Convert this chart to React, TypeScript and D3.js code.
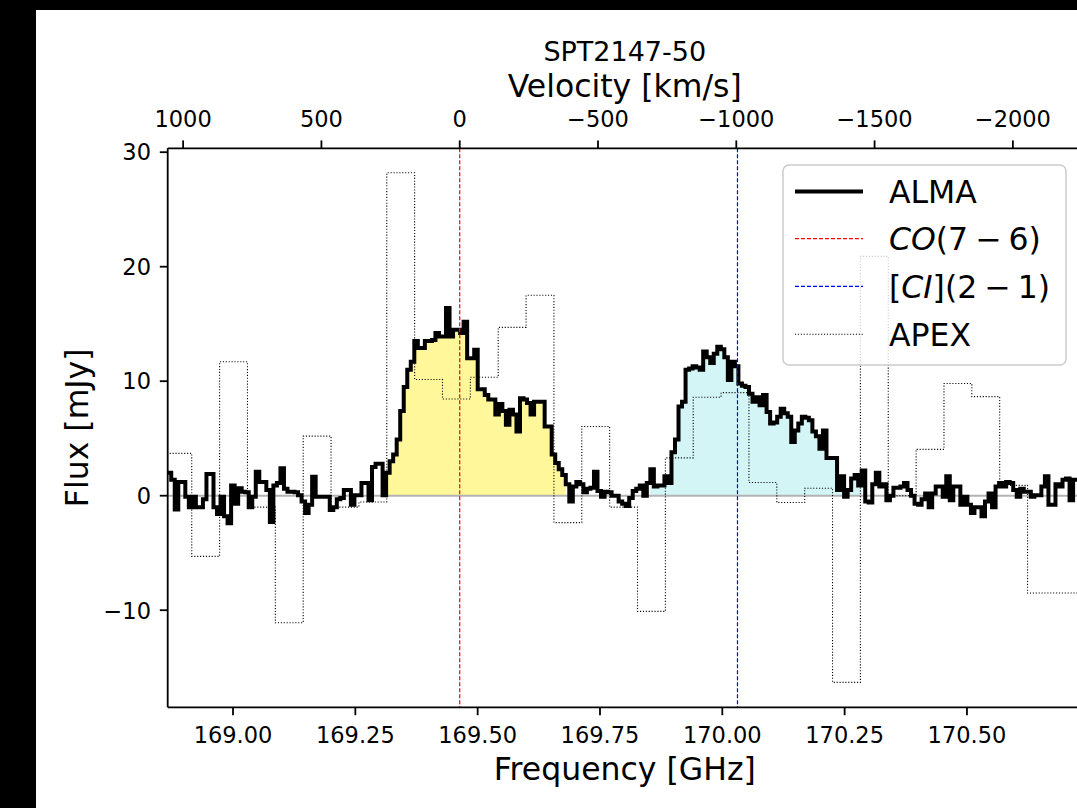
import React from 'react';
import * as d3 from 'd3';

// ---------- data ----------
const C_KMS = 299792.458;
const coFreq = 169.4633; // CO(7-6) observed frequency [GHz]
const ciFreq = 170.031; // [CI](2-1) observed frequency [GHz]

const almaStart = 168.8665; // GHz, first channel edge
const almaWidth = 0.0072; // GHz per channel

const almaBaseLeft = [
  2.0, 1.4, -1.2, 1.2, 1.2, -0.1, -1.0, -0.1, -1.0, -1.0, -0.3, 1.9, 1.9, -1.0, -1.6, -0.1,
  -1.8, -2.4, 0.9, -0.7, 0.65, 0.35, 0.3, -1.0, -0.1, 2.1, 1.2, 1.2, 0.5, -2.3, 0.9, 1.1,
  2.4, 0.6, 0.35, 0.35, 0.3, 0.05, -0.5, -1.5, -0.8, 1.65, -0.1, -0.1, -0.1, -0.1, -1.25, -1.0,
  -0.3, -0.2, 0.5, 0.5, -0.8, 0.05, 0.05, 1.1, 1.1, -0.4, 2.5, 2.8, 2.8, 0.05,
];
const almaCO = [
  2.0, 3.0, 3.6, 4.9, 7.4, 9.5, 11.0, 11.7, 13.5, 12.9, 12.9, 13.5, 13.5, 13.6, 14.2, 13.9,
  13.9, 16.4, 13.9, 14.5, 14.5, 14.2, 15.2, 12.0, 12.0, 12.75, 9.3, 9.3, 8.8, 8.4, 8.4, 7.1,
  8.0, 7.4, 6.2, 7.5, 7.1, 5.6, 8.5, 8.4, 8.1, 7.1, 8.2, 8.2, 8.2, 6.05, 6.05, 3.6, 2.85, 2.3, 1.8,
];
const almaMid = [
  1.0, -0.5, 0.8, 1.2, 1.0, 0.3, 0.6, 0.7, 2.1, 0.4, -0.1, 0.35, 0.3, 0.0, 0.0, -0.5,
  -0.7, -0.9, -0.2, 0.4, 0.6, 0.9, 0.0, 1.1,
];
const almaCI = [
  2.3, 0.8, 0.9, 0.9, 1.7, 1.1, 3.8, 4.9, 7.8, 8.2, 11.0, 11.1, 11.3, 11.2, 11.0, 12.6,
  12.1, 11.6, 12.4, 13.0, 12.8, 12.1, 10.1, 11.7, 11.3, 9.8, 9.6, 9.5, 8.9, 8.2, 8.6, 7.9,
  8.8, 7.3, 6.3, 6.4, 6.9, 7.6, 7.2, 6.9, 4.7, 5.7, 6.3, 6.9, 6.8, 6.6, 5.6, 5.2,
  4.1, 5.7, 3.3, 3.3, 3.3, 0.5, 1.7, -0.1, 0.5, 1.5, 1.8, 0.9,
];
const almaBaseRight = [
  2.2, -0.5, -0.6, 1.0, 2.0, 0.8, 1.0, -0.4, 0.0, 0.7, 0.7, 0.8, 1.1, 0.5, 0.0, -0.7,
  -0.8, -0.3, 0.2, -1.0, 0.2, 0.8, 0.8, -0.1, 1.7, -0.4, 0.8, 0.8, -0.8, -0.1, -0.8, -1.5,
  -1.0, -1.0, -1.8, -0.5, 0.2, -1.0, 0.8, 1.1, 0.8, 1.2, 1.1, 0.5, -0.1, 0.6, 0.35, 0.35,
  -0.1, 0.05, 0.05, 0.8, 1.7, -0.8, -0.8, 1.0, 0.8, 1.4, 1.5, -0.4, 1.4, 1.4, 1.4,
];
const almaFlux = [...almaBaseLeft, ...almaCO, ...almaMid, ...almaCI, ...almaBaseRight];

const apexStart = 168.8587;
const apexWidth = 0.05694;
const apexFlux = [
  3.7, -5.3, 11.7, -1.0, -11.1, 5.2, -1.0, -0.55, 28.2, 10.15, 8.45, 10.35, 14.7, 17.5, -2.35, 6.05,
  -1.0, -10.1, 3.3, 8.6, 9.0, 1.15, -0.6, 0.65, -16.3, 20.9, 0.0, 4.05, 9.8, 8.65, 0.9, -8.5, -8.5,
];

const coFillRange = [169.31, 169.678];
const ciFillRange = [169.85, 170.28];

const xDomain = [168.8665, 170.7347];
const yDomain = [-18.48, 30.34];
const freqTicks = [169.0, 169.25, 169.5, 169.75, 170.0, 170.25, 170.5];
const velTicks = [1000, 500, 0, -500, -1000, -1500, -2000];
const fluxTicks = [-10, 0, 10, 20, 30];

const legendItems = ['ALMA', 'CO', 'CI', 'APEX'];

// ---------- component ----------
const FONT = '"DejaVu Sans", sans-serif';

export default function App() {
  const L = 167.7, R = 1081.8, T = 148.3, B = 707.3;
  const x = d3.scaleLinear().domain(xDomain).range([L, R]);
  const y = d3.scaleLinear().domain(yDomain).range([B, T]);
  const vel = (f: number) => C_KMS * (1 - f / coFreq);
  const xv = d3.scaleLinear().domain([vel(xDomain[0]), vel(xDomain[1])]).range([L, R]);

  const stepLine = d3
    .line<[number, number]>()
    .x((d) => x(d[0]))
    .y((d) => y(d[1]))
    .curve(d3.curveStepAfter);

  const almaPts: [number, number][] = almaFlux.map((v, i) => [almaStart + i * almaWidth, v]);
  almaPts.push([almaStart + almaFlux.length * almaWidth, almaFlux[almaFlux.length - 1]]);

  const apexPts: [number, number][] = apexFlux.map((v, i) => [apexStart + i * apexWidth, v]);
  apexPts.push([apexStart + apexFlux.length * apexWidth, apexFlux[apexFlux.length - 1]]);

  const fillPath = (range: number[]) => {
    const idx = almaFlux
      .map((_, i) => i)
      .filter((i) => {
        const f = almaStart + i * almaWidth;
        return f >= range[0] && f <= range[1];
      });
    const pts: [number, number][] = idx.map((i) => [almaStart + i * almaWidth, almaFlux[i]]);
    const last = idx[idx.length - 1];
    pts.push([almaStart + (last + 1) * almaWidth, almaFlux[last]]);
    return d3
      .area<[number, number]>()
      .x((d) => x(d[0]))
      .y0(y(0))
      .y1((d) => y(d[1]))
      .curve(d3.curveStepAfter)(pts) as string;
  };

  const fmtVel = d3.format('d');
  const fmtFreq = d3.format('.2f');
  const fmtFlux = d3.format('d');

  const tickLen = 7.9;
  const axisColor = '#000';

  const legX = 783, legY = 165, legW = 283, legH = 200;
  const rowBase = [203.3, 250.3, 298, 346];

  return (
    <svg
      width={1077}
      height={808}
      style={{ position: 'absolute', left: 0, top: 0, display: 'block' }}
      fontFamily={FONT}
    >
      <defs>
        <clipPath id="plotClip">
          <rect x={L} y={T} width={R - L} height={B - T} />
        </clipPath>
      </defs>
      <rect x={0} y={0} width={1077} height={808} fill="#000" />
      <rect x={36} y={10} width={1077 - 36} height={808 - 10} fill="#fff" />

      <g clipPath="url(#plotClip)">
        <path d={fillPath(coFillRange)} fill="#fff79a" stroke="none" />
        <path d={fillPath(ciFillRange)} fill="#d3f5f5" stroke="none" />
        <line x1={L} x2={R} y1={y(0)} y2={y(0)} stroke="#b3b3b3" strokeWidth={2} />
        <path
          d={stepLine(apexPts) as string}
          fill="none"
          stroke="#000"
          strokeWidth={1.1}
          strokeDasharray="1.1,1.8"
        />
        <path
          d={stepLine(almaPts) as string}
          fill="none"
          stroke="#000"
          strokeWidth={4}
          strokeLinejoin="miter"
        />
        <line x1={x(coFreq)} x2={x(coFreq)} y1={T} y2={B} stroke="#ff0000" strokeWidth={1.2} strokeDasharray="4,2" />
        <line x1={x(ciFreq)} x2={x(ciFreq)} y1={T} y2={B} stroke="#0000ff" strokeWidth={1.2} strokeDasharray="4,2" />
      </g>

      {/* spines */}
      <line x1={L} x2={L} y1={T} y2={B} stroke={axisColor} strokeWidth={1.8} />
      <line x1={L} x2={R} y1={B} y2={B} stroke={axisColor} strokeWidth={1.8} />
      <line x1={L} x2={R} y1={T} y2={T} stroke={axisColor} strokeWidth={1.8} />

      {/* bottom axis */}
      {freqTicks.map((t) => (
        <g key={'f' + t}>
          <line x1={x(t)} x2={x(t)} y1={B} y2={B + tickLen} stroke="#000" strokeWidth={1.8} />
          <text x={x(t)} y={742.7} fontSize={22.5} textAnchor="middle" fill="#000">
            {fmtFreq(t)}
          </text>
        </g>
      ))}
      <text x={(L + R) / 2} y={780} fontSize={31.5} textAnchor="middle" fill="#000">
        Frequency [GHz]
      </text>

      {/* top axis */}
      {velTicks.map((t) => (
        <g key={'v' + t}>
          <line x1={xv(t)} x2={xv(t)} y1={T} y2={T - tickLen} stroke="#000" strokeWidth={1.8} />
          <text x={xv(t)} y={127.3} fontSize={22.5} textAnchor="middle" fill="#000">
            {fmtVel(t)}
          </text>
        </g>
      ))}
      <text x={(L + R) / 2} y={97} fontSize={31.5} textAnchor="middle" fill="#000">
        Velocity [km/s]
      </text>
      <text x={(L + R) / 2} y={61} fontSize={27} textAnchor="middle" fill="#000">
        SPT2147-50
      </text>

      {/* left axis */}
      {fluxTicks.map((t) => (
        <g key={'y' + t}>
          <line x1={L} x2={L - tickLen} y1={y(t)} y2={y(t)} stroke="#000" strokeWidth={1.8} />
          <text x={151} y={y(t) + 8.3} fontSize={22.5} textAnchor="end" fill="#000">
            {fmtFlux(t)}
          </text>
        </g>
      ))}
      <text
        x={88}
        y={(T + B) / 2}
        fontSize={31.5}
        textAnchor="middle"
        fill="#000"
        transform={`rotate(-90, 88, ${(T + B) / 2})`}
      >
        Flux [mJy]
      </text>

      {/* legend */}
      <g>
        <rect x={legX} y={legY} width={legW} height={legH} rx={6} ry={6} fill="#fff" fillOpacity={0.8} stroke="#cccccc" strokeWidth={1.5} />
        {legendItems.map((item, i) => {
          const yl = rowBase[i] - 11.7;
          let handle;
          if (item === 'ALMA') handle = <line x1={795} x2={863} y1={yl} y2={yl} stroke="#000" strokeWidth={4} />;
          else if (item === 'CO') handle = <line x1={795} x2={863} y1={yl} y2={yl} stroke="#ff0000" strokeWidth={1.2} strokeDasharray="4,2" />;
          else if (item === 'CI') handle = <line x1={795} x2={863} y1={yl} y2={yl} stroke="#0000ff" strokeWidth={1.2} strokeDasharray="4,2" />;
          else handle = <line x1={795} x2={863} y1={yl} y2={yl} stroke="#000" strokeWidth={1.1} strokeDasharray="1.1,1.8" />;
          let label;
          if (item === 'CO')
            label = (
              <>
                <tspan fontStyle="italic">CO</tspan>
                <tspan>(7</tspan>
                <tspan dx={7}>−</tspan>
                <tspan dx={7}>6)</tspan>
              </>
            );
          else if (item === 'CI')
            label = (
              <>
                <tspan>[</tspan>
                <tspan fontStyle="italic">CI</tspan>
                <tspan>](2</tspan>
                <tspan dx={7}>−</tspan>
                <tspan dx={7}>1)</tspan>
              </>
            );
          else label = item;
          return (
            <g key={item}>
              {handle}
              <text x={889} y={rowBase[i]} fontSize={31.5} fill="#000">
                {label}
              </text>
            </g>
          );
        })}
      </g>
    </svg>
  );
}
